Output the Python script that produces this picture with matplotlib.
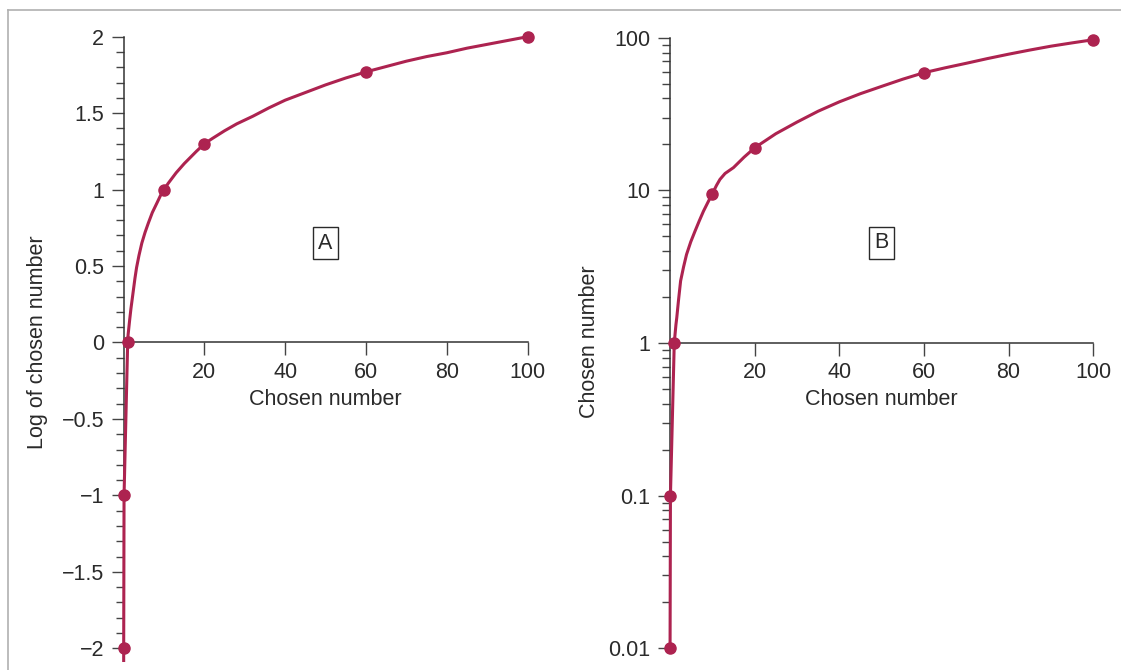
import numpy as np
import matplotlib
matplotlib.use("Agg")
import matplotlib.pyplot as plt
from matplotlib.ticker import FixedLocator, MultipleLocator, LogLocator, NullFormatter
from matplotlib.lines import Line2D

plt.rcParams['font.family'] = ['Liberation Sans', 'DejaVu Sans']

# === Data ===
# Panel A: log of chosen number
pts_a_x = [0.01, 0.1, 1, 10, 20, 60, 100]
pts_a_y = [-2, -1, 0, 1, 1.30, 1.77, 2]
curve_a_x = [0.0083, 0.01, 0.1, 1, 1.1, 1.3, 1.5, 1.8, 2.1, 2.4, 2.8, 3.2, 3.8, 4.5, 5.3,
             6.1, 7.1, 8.2, 9.1, 10, 11, 12, 13, 14, 15, 16.5, 18, 20, 22, 25, 28, 32,
             36, 40, 45, 50, 55, 60, 65, 70, 75, 80, 85, 90, 95, 100]
curve_a_y = [-2.08, -2, -1, 0, 0.05, 0.1, 0.15, 0.22, 0.28, 0.34, 0.42, 0.49, 0.57, 0.65,
             0.72, 0.78, 0.85, 0.91, 0.96, 1.0, 1.04, 1.075, 1.11, 1.14, 1.17, 1.21, 1.25,
             1.30, 1.335, 1.385, 1.43, 1.48, 1.535, 1.585, 1.635, 1.685, 1.73, 1.77,
             1.805, 1.84, 1.87, 1.895, 1.925, 1.95, 1.975, 2.0]

# Panel B: chosen number on a log axis
pts_b_x = [0.01, 0.1, 1, 10, 20, 60, 100]
pts_b_y = [0.01, 0.1, 1, 9.5, 19, 59, 97]
curve_b_x = [0.01, 0.1, 1, 1.2, 1.4, 1.6, 2, 2.5, 3.2, 3.9, 4.9, 5.9, 6.9, 7.9, 9, 10,
             11, 11.8, 13, 15, 17.5, 20, 25, 30, 35, 40, 45, 50, 55, 60, 65, 70, 75, 80,
             85, 90, 95, 100]
curve_b_y = [0.01, 0.1, 1, 1.15, 1.32, 1.47, 1.9, 2.55, 3.15, 3.8, 4.6, 5.4, 6.3, 7.3,
             8.4, 9.5, 10.8, 11.8, 12.9, 14.1, 16.5, 19, 23.5, 28, 33, 38, 43, 48, 53.5,
             59, 63.5, 68, 73, 78, 83, 88, 92.5, 97]

x_ticks = [20, 40, 60, 80, 100]
a_ticks = [-2, -1.5, -1, -0.5, 0, 0.5, 1, 1.5, 2]
a_labels = ['\u22122', '\u22121.5', '\u22121', '\u22120.5', '0', '0.5', '1', '1.5', '2']
b_ticks = [0.01, 0.1, 1, 10, 100]
b_labels = ['0.01', '0.1', '1', '10', '100']

line_color = '#AD2350'
ink = '#2a2a2a'
fs = 15.5

fig = plt.figure(figsize=(11.21, 6.70), dpi=100)

ax_a = fig.add_axes([0.1103, 0.0142, 0.3603, 0.931])
ax_b = fig.add_axes([0.5977, 0.0324, 0.3775, 0.9113])


def style_axes(ax):
    for s in ['top', 'right']:
        ax.spines[s].set_visible(False)
    for s in ['left', 'bottom']:
        ax.spines[s].set_color('#333333')
        ax.spines[s].set_linewidth(1.1)
    ax.tick_params(axis='both', which='major', length=9, width=1.0, color='#444444',
                   labelsize=fs, labelcolor=ink, pad=5)
    ax.tick_params(axis='y', which='minor', length=5.5, width=1.0, color='#444444')
    ax.set_xlim(0, 100)
    ax.xaxis.set_major_locator(FixedLocator(x_ticks))
    ax.patch.set_alpha(0)


# --- Panel A ---
style_axes(ax_a)
ax_a.plot(curve_a_x, curve_a_y, color=line_color, lw=2.2, clip_on=False, zorder=3)
ax_a.plot(pts_a_x, pts_a_y, 'o', color=line_color, ms=8, clip_on=False, zorder=4)
ax_a.set_ylim(-2.08, 2)
ax_a.spines['bottom'].set_position(('data', 0))
ax_a.set_yticks(a_ticks)
ax_a.set_yticklabels(a_labels)
ax_a.yaxis.set_minor_locator(MultipleLocator(0.1))
ax_a.set_xlabel('Chosen number', fontsize=fs, color=ink)
ax_a.xaxis.set_label_coords(0.5, 0.435)
ax_a.set_ylabel('Log of chosen number', fontsize=fs, color=ink)
ax_a.yaxis.set_label_coords(-0.187, 0.51)
ax_a.text(0.5, 0.669, 'A', transform=ax_a.transAxes, ha='center', va='center',
          fontsize=fs, color=ink,
          bbox=dict(boxstyle='square,pad=0.25', fc='white', ec=ink, lw=1.0))

# --- Panel B ---
style_axes(ax_b)
ax_b.set_yscale('log')
ax_b.plot(curve_b_x, curve_b_y, color=line_color, lw=2.2, clip_on=False, zorder=3)
ax_b.plot(pts_b_x, pts_b_y, 'o', color=line_color, ms=8, clip_on=False, zorder=4)
ax_b.set_ylim(0.01, 100)
ax_b.spines['bottom'].set_position(('data', 1))
ax_b.yaxis.set_major_locator(FixedLocator(b_ticks))
ax_b.set_yticklabels(b_labels)
ax_b.yaxis.set_minor_locator(LogLocator(base=10, subs=np.arange(2, 10)))
ax_b.yaxis.set_minor_formatter(NullFormatter())
ax_b.set_xlabel('Chosen number', fontsize=fs, color=ink)
ax_b.xaxis.set_label_coords(0.5, 0.4247)
ax_b.set_ylabel('Chosen number', fontsize=fs, color=ink)
ax_b.yaxis.set_label_coords(-0.166, 0.5016)
ax_b.text(0.5, 0.664, 'B', transform=ax_b.transAxes, ha='center', va='center',
          fontsize=fs, color=ink,
          bbox=dict(boxstyle='square,pad=0.25', fc='white', ec=ink, lw=1.0))

# light frame on the left and top edges
fig.add_artist(Line2D([8 / 1121, 8 / 1121], [0, 1 - 10 / 670], color='#b0b0b0', lw=1.2))
fig.add_artist(Line2D([8 / 1121, 1], [1 - 10 / 670, 1 - 10 / 670], color='#b0b0b0', lw=1.2))

fig.savefig('out.png', dpi=100)
